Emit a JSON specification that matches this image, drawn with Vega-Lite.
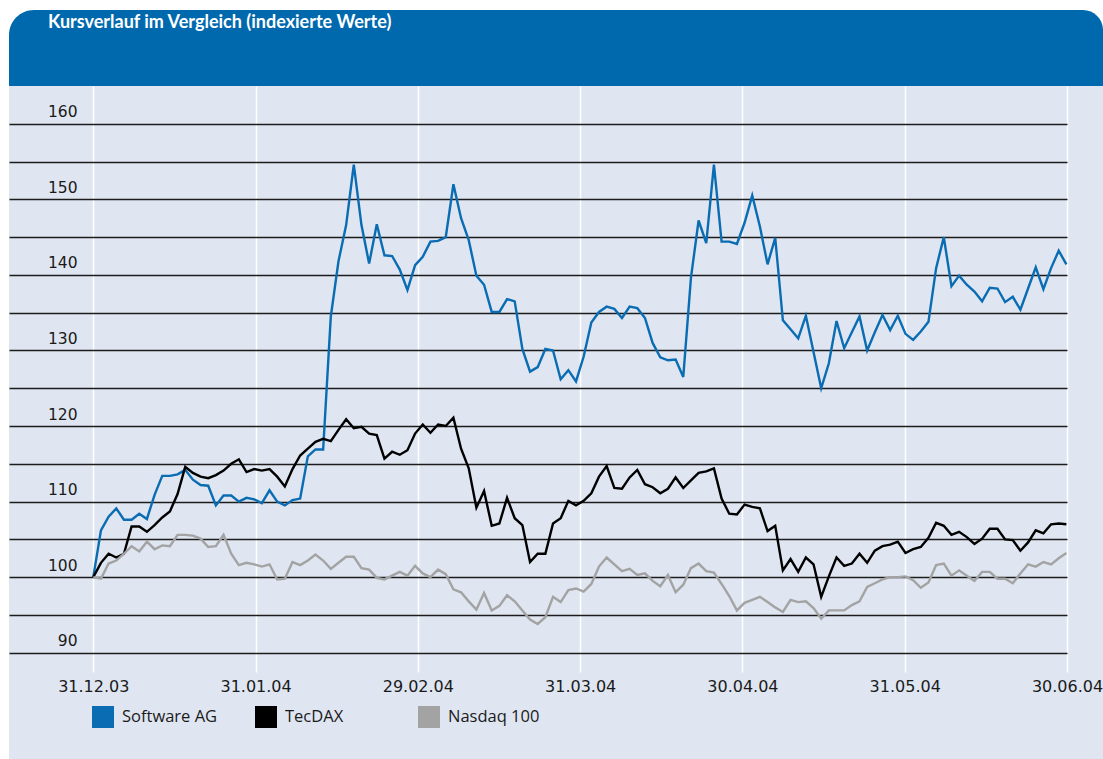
{
  "$schema": "https://vega.github.io/schema/vega-lite/v6.json",
  "width": 1058,
  "height": 586,
  "autosize": {"type": "none"},
  "padding": {"left": 9, "top": 86, "right": 36, "bottom": 87},
  "background": "#dfe6f1",
  "config": {
    "view": {"stroke": null},
    "axis": {"domain": false, "ticks": false, "tickSize": 0}
  },
  "data": {
    "values": [
      {"i":0,"Software AG":100,"TecDAX":100,"Nasdaq 100":100},
      {"i":1,"Software AG":106.2,"TecDAX":101.9,"Nasdaq 100":99.8},
      {"i":2,"Software AG":108.0,"TecDAX":103.1,"Nasdaq 100":101.8},
      {"i":3,"Software AG":109.1,"TecDAX":102.6,"Nasdaq 100":102.2},
      {"i":4,"Software AG":107.6,"TecDAX":103.1,"Nasdaq 100":103.1},
      {"i":5,"Software AG":107.6,"TecDAX":106.7,"Nasdaq 100":104.1},
      {"i":6,"Software AG":108.4,"TecDAX":106.7,"Nasdaq 100":103.4},
      {"i":7,"Software AG":107.7,"TecDAX":106.0,"Nasdaq 100":104.7},
      {"i":8,"Software AG":110.9,"TecDAX":106.9,"Nasdaq 100":103.7},
      {"i":9,"Software AG":113.4,"TecDAX":107.9,"Nasdaq 100":104.2},
      {"i":10,"Software AG":113.4,"TecDAX":108.7,"Nasdaq 100":104.1},
      {"i":11,"Software AG":113.6,"TecDAX":111.0,"Nasdaq 100":105.6},
      {"i":12,"Software AG":114.2,"TecDAX":114.6,"Nasdaq 100":105.6},
      {"i":13,"Software AG":112.9,"TecDAX":113.8,"Nasdaq 100":105.5},
      {"i":14,"Software AG":112.2,"TecDAX":113.3,"Nasdaq 100":105.1},
      {"i":15,"Software AG":112.1,"TecDAX":113.1,"Nasdaq 100":104.0},
      {"i":16,"Software AG":109.5,"TecDAX":113.5,"Nasdaq 100":104.1},
      {"i":17,"Software AG":110.8,"TecDAX":114.1,"Nasdaq 100":105.6},
      {"i":18,"Software AG":110.8,"TecDAX":115.0,"Nasdaq 100":103.1},
      {"i":19,"Software AG":110.0,"TecDAX":115.6,"Nasdaq 100":101.6},
      {"i":20,"Software AG":110.5,"TecDAX":113.9,"Nasdaq 100":101.9},
      {"i":21,"Software AG":110.3,"TecDAX":114.3,"Nasdaq 100":101.7},
      {"i":22,"Software AG":109.8,"TecDAX":114.1,"Nasdaq 100":101.4},
      {"i":23,"Software AG":111.5,"TecDAX":114.3,"Nasdaq 100":101.7},
      {"i":24,"Software AG":110.0,"TecDAX":113.3,"Nasdaq 100":99.7},
      {"i":25,"Software AG":109.5,"TecDAX":112.0,"Nasdaq 100":99.8},
      {"i":26,"Software AG":110.2,"TecDAX":114.3,"Nasdaq 100":102.0},
      {"i":27,"Software AG":110.4,"TecDAX":116.1,"Nasdaq 100":101.6},
      {"i":28,"Software AG":116.0,"TecDAX":117.0,"Nasdaq 100":102.2},
      {"i":29,"Software AG":116.9,"TecDAX":117.9,"Nasdaq 100":103.0},
      {"i":30,"Software AG":116.9,"TecDAX":118.3,"Nasdaq 100":102.2},
      {"i":31,"Software AG":134.5,"TecDAX":118.0,"Nasdaq 100":101.1},
      {"i":32,"Software AG":141.8,"TecDAX":119.5,"Nasdaq 100":101.9},
      {"i":33,"Software AG":146.6,"TecDAX":120.9,"Nasdaq 100":102.7},
      {"i":34,"Software AG":154.6,"TecDAX":119.7,"Nasdaq 100":102.7},
      {"i":35,"Software AG":146.6,"TecDAX":119.9,"Nasdaq 100":101.2},
      {"i":36,"Software AG":141.5,"TecDAX":119.0,"Nasdaq 100":101.0},
      {"i":37,"Software AG":146.7,"TecDAX":118.8,"Nasdaq 100":99.9},
      {"i":38,"Software AG":142.6,"TecDAX":115.7,"Nasdaq 100":99.7},
      {"i":39,"Software AG":142.5,"TecDAX":116.6,"Nasdaq 100":100.2},
      {"i":40,"Software AG":140.7,"TecDAX":116.2,"Nasdaq 100":100.7},
      {"i":41,"Software AG":138.0,"TecDAX":116.8,"Nasdaq 100":100.2},
      {"i":42,"Software AG":141.3,"TecDAX":119.0,"Nasdaq 100":101.5},
      {"i":43,"Software AG":142.4,"TecDAX":120.2,"Nasdaq 100":100.5},
      {"i":44,"Software AG":144.4,"TecDAX":119.1,"Nasdaq 100":100.0},
      {"i":45,"Software AG":144.5,"TecDAX":120.2,"Nasdaq 100":101.0},
      {"i":46,"Software AG":145.0,"TecDAX":120.0,"Nasdaq 100":100.4},
      {"i":47,"Software AG":152.0,"TecDAX":121.1,"Nasdaq 100":98.4},
      {"i":48,"Software AG":147.5,"TecDAX":117.0,"Nasdaq 100":98.0},
      {"i":49,"Software AG":144.6,"TecDAX":114.4,"Nasdaq 100":96.8},
      {"i":50,"Software AG":139.9,"TecDAX":109.2,"Nasdaq 100":95.7},
      {"i":51,"Software AG":138.7,"TecDAX":111.4,"Nasdaq 100":97.9},
      {"i":52,"Software AG":135.1,"TecDAX":106.8,"Nasdaq 100":95.6},
      {"i":53,"Software AG":135.1,"TecDAX":107.1,"Nasdaq 100":96.2},
      {"i":54,"Software AG":136.8,"TecDAX":110.5,"Nasdaq 100":97.6},
      {"i":55,"Software AG":136.5,"TecDAX":107.8,"Nasdaq 100":96.8},
      {"i":56,"Software AG":130.2,"TecDAX":106.9,"Nasdaq 100":95.6},
      {"i":57,"Software AG":127.2,"TecDAX":102.0,"Nasdaq 100":94.4},
      {"i":58,"Software AG":127.8,"TecDAX":103.1,"Nasdaq 100":93.8},
      {"i":59,"Software AG":130.2,"TecDAX":103.1,"Nasdaq 100":94.7},
      {"i":60,"Software AG":130.0,"TecDAX":107.1,"Nasdaq 100":97.4},
      {"i":61,"Software AG":126.2,"TecDAX":107.8,"Nasdaq 100":96.7},
      {"i":62,"Software AG":127.4,"TecDAX":110.1,"Nasdaq 100":98.3},
      {"i":63,"Software AG":125.9,"TecDAX":109.5,"Nasdaq 100":98.5},
      {"i":64,"Software AG":129.2,"TecDAX":110.1,"Nasdaq 100":98.1},
      {"i":65,"Software AG":133.7,"TecDAX":111.1,"Nasdaq 100":99.1},
      {"i":66,"Software AG":135.1,"TecDAX":113.3,"Nasdaq 100":101.4},
      {"i":67,"Software AG":135.8,"TecDAX":114.7,"Nasdaq 100":102.6},
      {"i":68,"Software AG":135.5,"TecDAX":111.8,"Nasdaq 100":101.7},
      {"i":69,"Software AG":134.3,"TecDAX":111.7,"Nasdaq 100":100.8},
      {"i":70,"Software AG":135.8,"TecDAX":113.2,"Nasdaq 100":101.1},
      {"i":71,"Software AG":135.6,"TecDAX":114.2,"Nasdaq 100":100.3},
      {"i":72,"Software AG":134.3,"TecDAX":112.3,"Nasdaq 100":100.5},
      {"i":73,"Software AG":131.0,"TecDAX":111.9,"Nasdaq 100":99.5},
      {"i":74,"Software AG":129.1,"TecDAX":111.1,"Nasdaq 100":98.8},
      {"i":75,"Software AG":128.7,"TecDAX":111.7,"Nasdaq 100":100.3},
      {"i":76,"Software AG":128.8,"TecDAX":113.2,"Nasdaq 100":98.0},
      {"i":77,"Software AG":126.5,"TecDAX":111.8,"Nasdaq 100":99.0},
      {"i":78,"Software AG":139.6,"TecDAX":112.8,"Nasdaq 100":101.2},
      {"i":79,"Software AG":147.2,"TecDAX":113.8,"Nasdaq 100":101.8},
      {"i":80,"Software AG":144.2,"TecDAX":114.0,"Nasdaq 100":100.8},
      {"i":81,"Software AG":154.6,"TecDAX":114.4,"Nasdaq 100":100.6},
      {"i":82,"Software AG":144.4,"TecDAX":110.4,"Nasdaq 100":99.1},
      {"i":83,"Software AG":144.4,"TecDAX":108.4,"Nasdaq 100":97.5},
      {"i":84,"Software AG":144.1,"TecDAX":108.3,"Nasdaq 100":95.6},
      {"i":85,"Software AG":146.9,"TecDAX":109.6,"Nasdaq 100":96.6},
      {"i":86,"Software AG":150.5,"TecDAX":109.3,"Nasdaq 100":97.0},
      {"i":87,"Software AG":146.4,"TecDAX":109.1,"Nasdaq 100":97.4},
      {"i":88,"Software AG":141.4,"TecDAX":106.1,"Nasdaq 100":96.7},
      {"i":89,"Software AG":144.9,"TecDAX":106.8,"Nasdaq 100":96.0},
      {"i":90,"Software AG":134.0,"TecDAX":100.9,"Nasdaq 100":95.4},
      {"i":91,"Software AG":132.8,"TecDAX":102.4,"Nasdaq 100":97.0},
      {"i":92,"Software AG":131.6,"TecDAX":100.7,"Nasdaq 100":96.7},
      {"i":93,"Software AG":134.6,"TecDAX":102.6,"Nasdaq 100":96.8},
      {"i":94,"Software AG":129.8,"TecDAX":101.7,"Nasdaq 100":95.9},
      {"i":95,"Software AG":125.0,"TecDAX":97.4,"Nasdaq 100":94.5},
      {"i":96,"Software AG":128.3,"TecDAX":100.1,"Nasdaq 100":95.6},
      {"i":97,"Software AG":133.9,"TecDAX":102.6,"Nasdaq 100":95.6},
      {"i":98,"Software AG":130.3,"TecDAX":101.5,"Nasdaq 100":95.6},
      {"i":99,"Software AG":132.4,"TecDAX":101.8,"Nasdaq 100":96.3},
      {"i":100,"Software AG":134.5,"TecDAX":103.1,"Nasdaq 100":96.8},
      {"i":101,"Software AG":130.0,"TecDAX":101.9,"Nasdaq 100":98.7},
      {"i":102,"Software AG":132.4,"TecDAX":103.5,"Nasdaq 100":99.2},
      {"i":103,"Software AG":134.7,"TecDAX":104.1,"Nasdaq 100":99.7},
      {"i":104,"Software AG":132.7,"TecDAX":104.3,"Nasdaq 100":100.0},
      {"i":105,"Software AG":134.6,"TecDAX":104.7,"Nasdaq 100":100.0},
      {"i":106,"Software AG":132.2,"TecDAX":103.2,"Nasdaq 100":100.1},
      {"i":107,"Software AG":131.4,"TecDAX":103.7,"Nasdaq 100":99.6},
      {"i":108,"Software AG":132.5,"TecDAX":104.0,"Nasdaq 100":98.6},
      {"i":109,"Software AG":133.8,"TecDAX":105.2,"Nasdaq 100":99.3},
      {"i":110,"Software AG":140.9,"TecDAX":107.2,"Nasdaq 100":101.6},
      {"i":111,"Software AG":145.0,"TecDAX":106.8,"Nasdaq 100":101.8},
      {"i":112,"Software AG":138.5,"TecDAX":105.6,"Nasdaq 100":100.2},
      {"i":113,"Software AG":139.9,"TecDAX":106.0,"Nasdaq 100":100.9},
      {"i":114,"Software AG":138.7,"TecDAX":105.3,"Nasdaq 100":100.2},
      {"i":115,"Software AG":137.8,"TecDAX":104.4,"Nasdaq 100":99.5},
      {"i":116,"Software AG":136.5,"TecDAX":105.1,"Nasdaq 100":100.7},
      {"i":117,"Software AG":138.3,"TecDAX":106.4,"Nasdaq 100":100.7},
      {"i":118,"Software AG":138.2,"TecDAX":106.4,"Nasdaq 100":99.8},
      {"i":119,"Software AG":136.4,"TecDAX":105.0,"Nasdaq 100":99.8},
      {"i":120,"Software AG":137.1,"TecDAX":104.9,"Nasdaq 100":99.2},
      {"i":121,"Software AG":135.4,"TecDAX":103.5,"Nasdaq 100":100.5},
      {"i":122,"Software AG":138.2,"TecDAX":104.6,"Nasdaq 100":101.7},
      {"i":123,"Software AG":141.0,"TecDAX":106.2,"Nasdaq 100":101.4},
      {"i":124,"Software AG":138.1,"TecDAX":105.8,"Nasdaq 100":102.0},
      {"i":125,"Software AG":140.9,"TecDAX":107.0,"Nasdaq 100":101.7},
      {"i":126,"Software AG":143.2,"TecDAX":107.1,"Nasdaq 100":102.5},
      {"i":127,"Software AG":141.4,"TecDAX":107.0,"Nasdaq 100":103.2}
    ]
  },
  "layer": [
    {
      "transform": [{"fold": ["Software AG", "TecDAX", "Nasdaq 100"], "as": ["Index", "Wert"]}],
      "mark": {"type": "line", "strokeWidth": 2.4},
      "encoding": {
        "x": {
          "field": "i", "type": "quantitative",
          "scale": {"domain": [-11, 127.08], "nice": false, "zero": false},
          "axis": {
            "title": null,
            "values": [0, 21.18, 42.36, 63.54, 84.72, 105.9, 127.08],
            "labelExpr": "['31.12.03','31.01.04','29.02.04','31.03.04','30.04.04','31.05.04','30.06.04'][round(datum.value/21.18)]",
            "grid": true, "gridColor": "#ffffff", "gridWidth": 1.6,
            "labelFont": "DejaVu Sans", "labelFontSize": 16, "labelColor": "#1a1a1a",
            "labelPadding": 6, "labelBaseline": "top", "labelFlush": false, "labelOverlap": false, "labelBound": false
          }
        },
        "y": {
          "field": "Wert", "type": "quantitative",
          "scale": {"domain": [87.45, 165], "nice": false, "zero": false},
          "axis": {
            "title": null,
            "values": [90, 95, 100, 105, 110, 115, 120, 125, 130, 135, 140, 145, 150, 155, 160],
            "labelExpr": "datum.value % 10 === 0 ? datum.label : ''",
            "grid": true, "gridColor": "#1c1c1c", "gridWidth": 1.5,
            "labelAlign": "right", "labelBaseline": "middle", "labelPadding": -68, "labelOffset": -12,
            "labelFont": "DejaVu Sans", "labelFontSize": 15.5, "labelColor": "#1a1a1a", "labelOverlap": false
          }
        },
        "color": {
          "field": "Index", "type": "nominal",
          "scale": {"domain": ["Software AG", "TecDAX", "Nasdaq 100"], "range": ["#0a6cb2", "#000000", "#a3a3a3"]},
          "legend": {
            "title": null, "orient": "none", "legendX": 83, "legendY": 620,
            "direction": "horizontal", "columns": 3, "gridAlign": "all", "columnPadding": 34,
            "symbolType": "square", "symbolSize": 400, "symbolStrokeWidth": 2, "symbolStrokeColor": "#000000",
            "labelFont": "Open Sans", "labelFontSize": 16.5, "labelColor": "#1a1a1a", "labelOffset": 8, "labelLimit": 300,
            "padding": 0, "zindex": 1,
            "encode": {"symbols": {"update": {"fill": {"scale": "color", "field": "value"}, "stroke": {"value": "#000000"}, "strokeWidth": {"value": 2}, "opacity": {"value": 1}}}}
          }
        }
      }
    },
    {
      "data": {"values": [{}]},
      "mark": {"type": "rect", "fill": "#ffffff"},
      "encoding": {
        "x": {"datum": -12.6, "scale": {"domain": [-11, 127.08], "nice": false, "zero": false}},
        "x2": {"datum": 132.2},
        "y": {"datum": 175.06, "scale": {"domain": [87.45, 165], "nice": false, "zero": false}},
        "y2": {"datum": 176.8}
      }
    },
    {
      "data": {"values": [{}]},
      "mark": {"type": "rect", "fill": "#ffffff"},
      "encoding": {
        "x": {"datum": -12.6, "scale": {"domain": [-11, 127.08], "nice": false, "zero": false}},
        "x2": {"datum": -11},
        "y": {"datum": 74.5, "scale": {"domain": [87.45, 165], "nice": false, "zero": false}},
        "y2": {"datum": 176.8}
      }
    },
    {
      "data": {"values": [{}]},
      "mark": {"type": "rect", "fill": "#ffffff"},
      "encoding": {
        "x": {"datum": -11, "scale": {"domain": [-11, 127.08], "nice": false, "zero": false}},
        "x2": {"datum": -7.6},
        "y": {"datum": 171.6, "scale": {"domain": [87.45, 165], "nice": false, "zero": false}},
        "y2": {"datum": 175.1}
      }
    },
    {
      "data": {"values": [{}]},
      "mark": {"type": "rect", "fill": "#ffffff"},
      "encoding": {
        "x": {"datum": 128.8, "scale": {"domain": [-11, 127.08], "nice": false, "zero": false}},
        "x2": {"datum": 132.2},
        "y": {"datum": 172.3, "scale": {"domain": [87.45, 165], "nice": false, "zero": false}},
        "y2": {"datum": 175.1}
      }
    },
    {
      "data": {"values": [{}]},
      "mark": {"type": "rect", "fill": "#0069ae", "cornerRadiusTopLeft": 25, "cornerRadiusTopRight": 20},
      "encoding": {
        "x": {"datum": -11, "scale": {"domain": [-11, 127.08], "nice": false, "zero": false}},
        "x2": {"datum": 131.78},
        "y": {"datum": 165, "scale": {"domain": [87.45, 165], "nice": false, "zero": false}},
        "y2": {"datum": 175.06}
      }
    },
    {
      "data": {"values": [{}]},
      "mark": {"type": "text", "text": "Kursverlauf im Vergleich (indexierte Werte)", "font": "Lato", "fontWeight": "bold", "fontSize": 18, "fill": "#ffffff", "align": "left", "baseline": "alphabetic"},
      "encoding": {
        "x": {"datum": -5.91, "scale": {"domain": [-11, 127.08], "nice": false, "zero": false}},
        "y": {"datum": 172.64, "scale": {"domain": [87.45, 165], "nice": false, "zero": false}}
      }
    }
  ]
}
